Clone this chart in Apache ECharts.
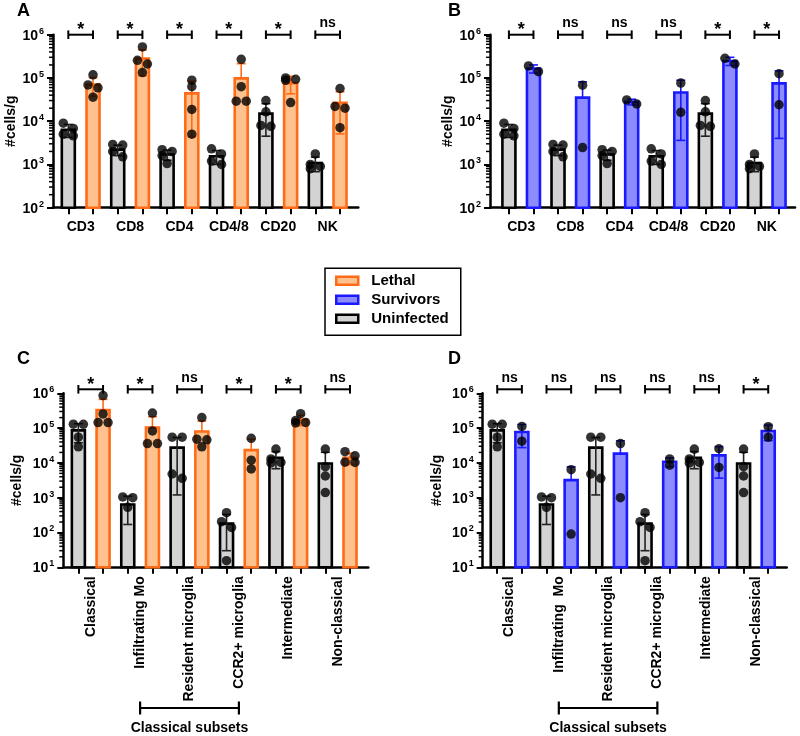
<!DOCTYPE html>
<html><head><meta charset="utf-8">
<script src="https://cdn.jsdelivr.net/npm/echarts@6/dist/echarts.min.js"></script>
<style>html,body{margin:0;padding:0;background:#fff}#c{width:800px;height:736px}</style>
</head><body><div id="c"></div>
<script>
// ---------------- DATA ----------------
const catsAB = ['CD3', 'CD8', 'CD4', 'CD4/8', 'CD20', 'NK'];
const catsC = ['Classical', 'Infiltrating Mo', 'Resident microglia', 'CCR2+ microglia', 'Intermediate', 'Non-classical'];
const catsD = ['Classical', 'Infiltrating  Mo', 'Resident microglia', 'CCR2+ microglia', 'Intermediate', 'Non-classical'];
const yTicksAB = [1e2, 1e3, 1e4, 1e5, 1e6];
const yTicksCD = [1e1, 1e2, 1e3, 1e4, 1e5, 1e6];

// Uninfected, T/B/NK cells (panels A & B)
const uninfAB_mean = [6300, 2200, 1700, 1550, 15000, 1080];
const uninfAB_sd = [2100, 600, 450, 550, 10500, 400];
const uninfAB_pts = [[9000, 6800, 5000, 4600], [2900, 2800, 2000, 1500], [2200, 2000, 1600, 1050],
  [2300, 1750, 1200, 1000], [30000, 16500, 8000, 7600], [1750, 1000, 900, 800]];
// Lethal (panel A)
const lethalAB_mean = [70000, 280000, 44000, 98000, 76000, 26500];
const lethalAB_sd = [32000, 168000, 39600, 116000, 33000, 21400];
const lethalAB_pts = [[118000, 69000, 59000, 36000], [520000, 255000, 210000, 133000], [89000, 63000, 18700, 5000],
  [270000, 63000, 29000, 29000], [100000, 93000, 88000, 27000], [57000, 22000, 20000, 7100]];
// Survivors (panel B)
const survAB_mean = [165000, 35000, 28000, 46000, 247000, 75000];
const survAB_sd = [35000, 46300, 4200, 42400, 53000, 71000];
const survAB_pts = [[140000, 190000], [68000, 2450], [25000, 31000], [76000, 16000], [210000, 285000], [125000, 24000]];

// Uninfected, myeloid subsets (panels C & D)
const uninfCD_mean = [86000, 640, 27500, 180, 14000, 9600];
const uninfCD_sd = [48000, 470, 26300, 150, 7200, 10600];
const uninfCD_pts = [[130000, 128000, 55000, 29000], [1050, 1000, 530], [55000, 55000, 4800, 3600],
  [370, 205, 140, 15.5], [25000, 13000, 10300, 10000], [25000, 7800, 4200, 1400]];
// Lethal (panel C)
const lethalCD_mean = [330000, 103000, 80000, 23300, 175000, 14000];
const lethalCD_sd = [340000, 110000, 81000, 24200, 58000, 5000];
const lethalCD_pts = [[860000, 255000, 144000, 144000], [270000, 83000, 36000, 36000], [200000, 48000, 46000, 29000],
  [51000, 12000, 6700], [260000, 165000, 145000, 140000], [21000, 16000, 10500, 10300]];
// Survivors (panel D)
const survCD_mean = [77000, 3200, 18500, 10800, 16450, 82500];
const survCD_sd = [49500, 4460, 24700, 3100, 12800, 38900];
const survCD_pts = [[112000, 42000], [6400, 90], [36000, 1000], [13000, 8600], [25500, 7400], [110000, 55000]];

// Significance labels
const sigA = ['*', '*', '*', '*', '*', 'ns'];
const sigB = ['*', 'ns', 'ns', 'ns', '*', '*'];
const sigC = ['*', '*', 'ns', '*', '*', 'ns'];
const sigD = ['ns', 'ns', 'ns', 'ns', 'ns', '*'];

const subsetLabel = 'Classical subsets';
const subsetFrom = 2 - 1; // category index: Infiltrating Mo
const subsetTo = 4 - 1;   // category index: CCR2+ microglia

const legendNames = ['Lethal', 'Survivors', 'Uninfected'];
const yTitle = '#cells/g';

// ---------------- STYLE ----------------
const FONT = '"Liberation Sans", Arial, Helvetica, sans-serif';
const COL = {
  Uninfected: { fill: '#D3D3D3', line: '#000000', err: '#222222' },
  Lethal: { fill: '#FFC28E', line: '#FF6B17', err: '#FF6B17' },
  Survivors: { fill: '#8C8CFF', line: '#1A1AFF', err: '#1A1AFF' }
};
const BAR_W = 13, BAR_LW = 2.6, ERR_LW = 1.6, CAP_W = 9, DOT = 9.5;

const panels = [
  { letter: 'A', lx: 17, ly: 2, grid: { left: 53, top: 34.7, width: 305.3, height: 173 }, xMin: -0.62, xMax: 11.74,
    yMin: 1e2, yTicks: yTicksAB, cats: catsAB, rotate: 0, labelMargin: 12, nameGap: 34,
    gray: [uninfAB_mean, uninfAB_sd, uninfAB_pts], colName: 'Lethal', col: [lethalAB_mean, lethalAB_sd, lethalAB_pts],
    sig: sigA, brUp: 0, subset: false },
  { letter: 'B', lx: 448, ly: 2, grid: { left: 490, top: 34.7, width: 305, height: 173 }, xMin: -0.77, xMax: 11.65,
    yMin: 1e2, yTicks: yTicksAB, cats: catsAB, rotate: 0, labelMargin: 12, nameGap: 30,
    gray: [uninfAB_mean, uninfAB_sd, uninfAB_pts], colName: 'Survivors', col: [survAB_mean, survAB_sd, survAB_pts],
    sig: sigB, brUp: 0, subset: false },
  { letter: 'C', lx: 17, ly: 350, grid: { left: 63.3, top: 393.3, width: 305, height: 174 }, xMin: -0.61, xMax: 11.74,
    yMin: 1e1, yTicks: yTicksCD, cats: catsC, rotate: 90, labelMargin: 9, nameGap: 39.5,
    gray: [uninfCD_mean, uninfCD_sd, uninfCD_pts], colName: 'Lethal', col: [lethalCD_mean, lethalCD_sd, lethalCD_pts],
    sig: sigC, brUp: 4, subset: true },
  { letter: 'D', lx: 448, ly: 350, grid: { left: 482.7, top: 393.3, width: 304, height: 174 }, xMin: -0.59, xMax: 11.75,
    yMin: 1e1, yTicks: yTicksCD, cats: catsD, rotate: 90, labelMargin: 9, nameGap: 39,
    gray: [uninfCD_mean, uninfCD_sd, uninfCD_pts], colName: 'Survivors', col: [survCD_mean, survCD_sd, survCD_pts],
    sig: sigD, brUp: 4, subset: true }
];

function minorTicks(lo, hi) {
  const out = [];
  for (let e = Math.round(Math.log10(lo)); e < Math.round(Math.log10(hi)); e++) {
    for (let k = 2; k <= 9; k++) out.push(k * Math.pow(10, e));
  }
  return out;
}

// beeswarm-like offsets (px) for points that overlap vertically
function jitter(vals, pxPerDec) {
  const idx = vals.map((v, i) => i).sort((a, b) => vals[b] - vals[a]);
  const res = new Array(vals.length).fill(0);
  let cluster = [];
  const flush = () => {
    if (cluster.length > 1) cluster.forEach((i, k) => { res[i] = (k % 2 === 0 ? -5 : 5); });
    cluster = [];
  };
  let prevY = null;
  idx.forEach(i => {
    const y = Math.log10(vals[i]) * pxPerDec;
    if (prevY !== null && prevY - y >= 6) flush();
    cluster.push(i);
    prevY = y;
  });
  flush();
  return res;
}

const option = {
  animation: false,
  backgroundColor: '#fff',
  textStyle: { fontFamily: FONT },
  title: [], grid: [], xAxis: [], yAxis: [], series: [],
  legend: {
    data: legendNames.map(n => ({ name: n, itemStyle: { color: COL[n].fill, borderColor: COL[n].line, borderWidth: 2.5 } })),
    orient: 'vertical', left: 325, top: 268.3, icon: 'rect', itemWidth: 22, itemHeight: 8, itemGap: 4,
    padding: [5, 12, 9, 10], borderColor: '#000', borderWidth: 1.5, selectedMode: false,
    textStyle: { fontSize: 15, fontWeight: 'bold', color: '#000', fontFamily: FONT, lineHeight: 15, padding: [0, 0, 0, 8] }
  }
};

panels.forEach((P, pi) => {
  const g = P.grid;
  const pxPerUnit = g.width / (P.xMax - P.xMin);
  const pxPerDec = g.height / (6 - Math.log10(P.yMin));
  option.title.push({ text: P.letter, left: P.lx, top: P.ly, padding: 0,
    textStyle: { fontSize: 18, fontWeight: 'bold', color: '#000', fontFamily: FONT } });
  option.grid.push(Object.assign({ containLabel: false, outerBoundsMode: 'none' }, g));
  const nC = P.cats.length;
  option.xAxis.push({
    type: 'value', gridIndex: pi, min: P.xMin, max: P.xMax, position: 'bottom',
    axisLine: { show: true, onZero: false, lineStyle: { color: '#000', width: 2.5 } },
    axisTick: { show: true, length: 6.5, lineStyle: { color: '#000', width: 2 },
      customValues: Array.from({ length: nC * 2 }, (_, k) => k) },
    axisLabel: { customValues: P.cats.map((c, k) => 2 * k + 0.5), rotate: P.rotate, margin: P.labelMargin,
      formatter: v => P.cats[Math.round((v - 0.5) / 2)],
      fontSize: 14, fontWeight: 'bold', color: '#000', fontFamily: FONT },
    splitLine: { show: false }
  });
  const yIdx = option.yAxis.length;
  option.yAxis.push({
    type: 'log', logBase: 10, gridIndex: pi, min: P.yMin, max: 1e6, position: 'left',
    axisLine: { show: true, onZero: false, lineStyle: { color: '#000', width: 2.5 } },
    axisTick: { show: true, length: 6, lineStyle: { color: '#000', width: 2 }, customValues: P.yTicks },
    axisLabel: { customValues: P.yTicks, margin: 9,
      formatter: v => '{b|10}{s|' + Math.round(Math.log10(v)) + '}',
      rich: {
        b: { fontSize: 14, fontWeight: 'bold', color: '#000', fontFamily: FONT, lineHeight: 16, verticalAlign: 'bottom' },
        s: { fontSize: 9, fontWeight: 'bold', color: '#000', fontFamily: FONT, lineHeight: 16, verticalAlign: 'top', padding: [0, 0, 0, 1] }
      } },
    splitLine: { show: false },
    name: yTitle, nameLocation: 'middle', nameGap: P.nameGap,
    nameTextStyle: { fontSize: 14, fontWeight: 'bold', color: '#000', fontFamily: FONT }
  });

  // log minor ticks on the y axis (2..9 × 10^k), placed through the y scale
  option.series.push({
    type: 'custom', name: 'minor', xAxisIndex: pi, yAxisIndex: yIdx, z: 6, clip: false, silent: true,
    data: minorTicks(P.yMin, 1e6).map(v => [P.xMin, v]),
    renderItem: (params, api) => {
      const p = api.coord([api.value(0), api.value(1)]);
      return { type: 'line', shape: { x1: p[0] - 4, y1: p[1], x2: p[0], y2: p[1] }, style: { stroke: '#000', lineWidth: 1.5 } };
    }
  });

  const groups = [['Uninfected', P.gray, 0], [P.colName, P.col, 1]];
  groups.forEach(([name, arr, shift]) => {
    const [mean, sd, pts] = arr;
    const c = COL[name];
    // bars
    option.series.push({
      type: 'custom', name, xAxisIndex: pi, yAxisIndex: yIdx, z: 2, clip: false,
      itemStyle: { color: c.fill, borderColor: c.line, borderWidth: 2.5 },
      data: mean.map((m, k) => [2 * k + shift, m]),
      renderItem: (params, api) => {
        const x = api.value(0);
        const top = api.coord([x, api.value(1)]);
        const bot = api.coord([x, P.yMin]);
        return { type: 'rect', shape: { x: top[0] - BAR_W / 2, y: top[1], width: BAR_W, height: bot[1] - top[1] },
          style: { fill: c.fill, stroke: c.line, lineWidth: BAR_LW } };
      }
    });
    // error bars (mean ± SD)
    option.series.push({
      type: 'custom', name: name + ' SD', xAxisIndex: pi, yAxisIndex: yIdx, z: 3, clip: false,
      data: mean.map((m, k) => [2 * k + shift, m, sd[k]]),
      renderItem: (params, api) => {
        const x = api.value(0), m = api.value(1), s = api.value(2);
        const hi = api.coord([x, m + s]);
        const mid = api.coord([x, m]);
        const lo = (m - s) > 0 ? api.coord([x, Math.max(m - s, P.yMin)]) : null;
        const st = { stroke: c.err, lineWidth: ERR_LW };
        const ch = [{ type: 'line', shape: { x1: hi[0], y1: hi[1], x2: hi[0], y2: lo ? lo[1] : mid[1] }, style: st },
          { type: 'line', shape: { x1: hi[0] - CAP_W / 2, y1: hi[1], x2: hi[0] + CAP_W / 2, y2: hi[1] }, style: st }];
        if (lo) ch.push({ type: 'line', shape: { x1: lo[0] - CAP_W / 2, y1: lo[1], x2: lo[0] + CAP_W / 2, y2: lo[1] }, style: st });
        return { type: 'group', children: ch };
      }
    });
    // individual points
    const dots = [];
    pts.forEach((vals, k) => {
      const off = jitter(vals, pxPerDec);
      vals.forEach((v, j) => dots.push([2 * k + shift + off[j] / pxPerUnit, v]));
    });
    option.series.push({
      type: 'scatter', name: name + ' pts', xAxisIndex: pi, yAxisIndex: yIdx, z: 4,
      symbol: 'circle', symbolSize: DOT, itemStyle: { color: '#000' }, data: dots, clip: false
    });
  });

  // significance brackets
  option.series.push({
    type: 'custom', name: 'sig', xAxisIndex: pi, yAxisIndex: yIdx, z: 5, clip: false,
    data: P.sig.map((s, k) => [2 * k, 2 * k + 1]),
    renderItem: (params, api) => {
      const l = api.coord([api.value(0), 1e6]);
      const r = api.coord([api.value(1), 1e6]);
      const y = l[1] - P.brUp;
      const st = { stroke: '#000', lineWidth: 2 };
      const lab = P.sig[params.dataIndex];
      const star = lab === '*';
      return { type: 'group', children: [
        { type: 'line', shape: { x1: l[0], y1: y, x2: r[0], y2: y }, style: st },
        { type: 'line', shape: { x1: l[0], y1: y - 4.3, x2: l[0], y2: y + 4.3 }, style: st },
        { type: 'line', shape: { x1: r[0], y1: y - 4.3, x2: r[0], y2: y + 4.3 }, style: st },
        { type: 'text', style: { text: lab, x: (l[0] + r[0]) / 2, y: star ? y - 4.5 : y - 11.5,
          align: 'center', verticalAlign: 'middle', fontSize: star ? 18 : 14, fontWeight: 'bold', fontFamily: FONT, fill: '#000' } }
      ] };
    }
  });

  if (P.subset) {
    option.series.push({
      type: 'custom', name: 'subset', xAxisIndex: pi, yAxisIndex: yIdx, z: 5, clip: false,
      data: [[2 * subsetFrom + 0.5, 2 * subsetTo + 0.5]],
      renderItem: (params, api) => {
        const l = api.coord([api.value(0), P.yMin]);
        const r = api.coord([api.value(1), P.yMin]);
        const y = l[1] + 140.7;
        const st = { stroke: '#000', lineWidth: 2.2 };
        return { type: 'group', children: [
          { type: 'line', shape: { x1: l[0], y1: y, x2: r[0], y2: y }, style: st },
          { type: 'line', shape: { x1: l[0], y1: y - 6.5, x2: l[0], y2: y + 6.5 }, style: st },
          { type: 'line', shape: { x1: r[0], y1: y - 6.5, x2: r[0], y2: y + 6.5 }, style: st },
          { type: 'text', style: { text: subsetLabel, x: (l[0] + r[0]) / 2, y: y + 20.5, align: 'center', verticalAlign: 'middle',
            fontSize: 14, fontWeight: 'bold', fontFamily: FONT, fill: '#000' } }
        ] };
      }
    });
  }
});

const chart = echarts.init(document.getElementById('c'), null, { renderer: 'canvas' });
chart.setOption(option);
</script>
</body></html>
